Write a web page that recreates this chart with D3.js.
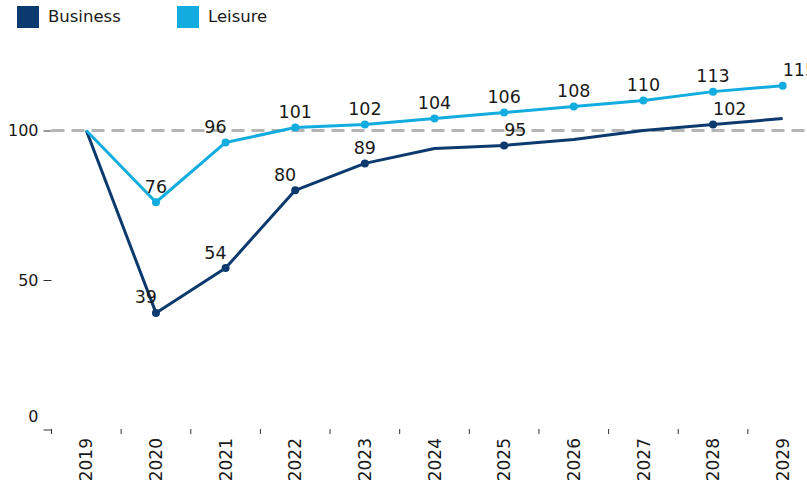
<!DOCTYPE html>
<html>
<head>
<meta charset="utf-8">
<script src="https://cdn.jsdelivr.net/npm/d3@7"></script>
<style>
  html, body { margin: 0; padding: 0; background: #fff; }
  svg { display: block; font-family: "DejaVu Sans", Verdana, sans-serif; }
</style>
</head>
<body>
<svg id="chart" width="807" height="488"></svg>
<script>
// Travel demand index, 2019 = 100
const years = ["2019","2020","2021","2022","2023","2024","2025","2026","2027","2028","2029"];
const business = [100, 39, 54, 80, 89, 94, 95, 97, 100, 102, 104];
const leisure  = [100, 76, 96, 101, 102, 104, 106, 108, 110, 113, 115];
// which points carry a marker and a value label
const businessShown = [false, true, true, true, true, false, true, false, false, true, false];
const leisureShown  = [false, true, true, true, true, true, true, true, true, true, true];
// label alignment relative to the marker
const businessAnchor = ["middle","end","end","end","middle","middle","start","middle","middle","start","middle"];
const leisureAnchor  = ["middle","middle","end","middle","middle","middle","middle","middle","middle","middle","start"];
const yTicks = [0, 50, 100];
const seriesNames = ["Business", "Leisure"];
const colors = { Business: "#0c3a6e", Leisure: "#12acdf" };

const svg = d3.select("#chart");

const x = d3.scaleBand().domain(years).range([51.5, 817.5]).padding(0);
const y = d3.scaleLinear().domain([0, 100]).range([429.5, 130.5]);
const cx = d => x(d) + x.bandwidth() / 2;

// legend
const legend = svg.append("g");
const legendX = [17, 177];
seriesNames.forEach((name, i) => {
  legend.append("rect").attr("x", legendX[i]).attr("y", 6).attr("width", 22).attr("height", 22)
    .attr("fill", colors[name]);
  legend.append("text").attr("x", legendX[i] + 31).attr("y", 22)
    .attr("font-size", 16.5).attr("fill", "#1a1a1a").text(name);
});

// y axis
const yAxis = svg.append("g").attr("transform", "translate(51.5,0)")
  .call(d3.axisLeft(y).tickValues(yTicks).tickSize(8).tickPadding(5));
yAxis.select(".domain").remove();
yAxis.selectAll(".tick line").attr("stroke", "#333");
yAxis.selectAll(".tick text").attr("font-size", 16).attr("fill", "#1a1a1a")
  .attr("font-family", "DejaVu Sans, Verdana, sans-serif")
  .attr("dy", d => d === 0 ? "-0.5em" : "0.32em");

// x axis: ticks at band edges, labels at band centres
const xAxis = svg.append("g").attr("transform", "translate(0,429)");
xAxis.selectAll("line.edge").data(years).join("line").attr("class", "edge")
  .attr("x1", d => x(d)).attr("x2", d => x(d)).attr("y1", 0).attr("y2", 5)
  .attr("stroke", "#333");
xAxis.selectAll("text").data(years).join("text")
  .attr("transform", d => `translate(${cx(d)},0) rotate(-90)`)
  .attr("x", -9).attr("y", 0).attr("dy", "0.36em")
  .attr("text-anchor", "end").attr("font-size", 17).attr("fill", "#1a1a1a")
  .text(d => d);

// reference line at 100
svg.append("line").attr("x1", 51.5).attr("x2", 807).attr("y1", y(100)).attr("y2", y(100))
  .attr("stroke", "#b5b5b5").attr("stroke-width", 3).attr("stroke-dasharray", "13,7");

const line = d3.line().x((d, i) => cx(years[i])).y(d => y(d));

function drawSeries(values, shown, anchors, color) {
  const g = svg.append("g");
  g.append("path").datum(values).attr("d", line)
    .attr("fill", "none").attr("stroke", color).attr("stroke-width", 3)
    .attr("stroke-linejoin", "round");
  const pts = values.map((v, i) => ({ v, i })).filter(p => shown[p.i]);
  g.selectAll("circle").data(pts).join("circle")
    .attr("cx", p => cx(years[p.i])).attr("cy", p => y(p.v)).attr("r", 4)
    .attr("fill", color);
  g.selectAll("text").data(pts).join("text")
    .attr("x", p => cx(years[p.i]) + (anchors[p.i] === "end" ? 1 : 0))
    .attr("y", p => y(p.v) - 9.5)
    .attr("text-anchor", p => anchors[p.i])
    .attr("font-size", 17.5).attr("fill", "#1a1a1a")
    .text(p => p.v);
}

drawSeries(business, businessShown, businessAnchor, colors.Business);
drawSeries(leisure, leisureShown, leisureAnchor, colors.Leisure);
</script>
</body>
</html>
